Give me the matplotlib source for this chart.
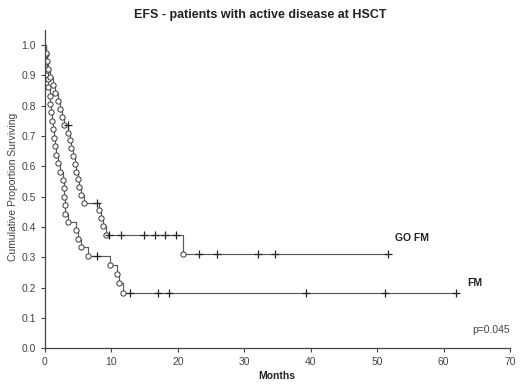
import matplotlib
matplotlib.use("Agg")
import matplotlib.pyplot as plt

plt.rcParams['font.family'] = ['Liberation Sans', 'DejaVu Sans']

# FM: event times (months) and survival after each event
fm_times = [0.1, 0.2, 0.3, 0.4, 0.5, 0.7, 0.8, 0.9, 1.0, 1.2, 1.3, 1.5, 1.6, 1.9,
            2.3, 2.7, 2.8, 2.85, 2.95, 3.0, 3.4, 4.7, 4.9, 5.4, 6.4, 9.8, 10.9,
            11.1, 11.8]
fm_surv = [0.972, 0.944, 0.917, 0.889, 0.861, 0.833, 0.806, 0.778, 0.75, 0.722,
           0.694, 0.667, 0.639, 0.611, 0.583, 0.556, 0.528, 0.5, 0.472, 0.444,
           0.417, 0.389, 0.361, 0.333, 0.306, 0.275, 0.245, 0.214, 0.183]
fm_cens = [7.9, 12.8, 17.0, 18.6, 39.3, 51.1, 61.9]

# GO FM
go_times = [0.1, 0.3, 0.5, 0.8, 1.2, 1.5, 1.9, 2.3, 2.6, 2.9, 3.5, 3.7, 3.9, 4.2,
            4.5, 4.7, 4.9, 5.1, 5.4, 5.9, 8.1, 8.5, 8.8, 9.2, 20.8]
go_surv = [0.974, 0.947, 0.921, 0.895, 0.868, 0.842, 0.816, 0.789, 0.763, 0.737,
           0.711, 0.686, 0.66, 0.634, 0.609, 0.583, 0.557, 0.531, 0.506, 0.48,
           0.456, 0.43, 0.404, 0.374, 0.311]
go_cens = [3.4, 7.8, 9.6, 11.4, 14.9, 16.5, 18.1, 19.7, 23.2, 25.9, 32.1, 34.6, 51.6]


def surv_at(t, times, surv):
    s = 1.0
    for ti, si in zip(times, surv):
        if ti <= t:
            s = si
    return s


fig = plt.figure(figsize=(5.2, 3.9), dpi=100)
ax = fig.add_axes([0.0865, 0.107, 0.8945, 0.816])

line_c = '#5a5a5a'
for times, surv, cens in [(fm_times, fm_surv, fm_cens), (go_times, go_surv, go_cens)]:
    x = [0] + times + [max(cens)]
    y = [1.0] + surv + [surv[-1]]
    ax.step(x, y, where='post', color=line_c, lw=0.85)
    ax.plot(times, surv, 'o', ms=3.8, mfc='white', mec='#3a3a3a', mew=0.7)
    ax.plot(cens, [surv_at(c, times, surv) for c in cens], '+', ms=5.5,
            color='#222222', mew=0.9)

ax.set_xlim(0, 70)
ax.set_ylim(0, 1.05)
ax.set_xticks(range(0, 71, 10))
ax.set_yticks([i / 10 for i in range(11)])
ax.set_yticklabels(['%.1f' % (i / 10) for i in range(11)])
for s in ['top', 'right']:
    ax.spines[s].set_visible(False)
for s in ['left', 'bottom']:
    ax.spines[s].set_color('#444444')
    ax.spines[s].set_linewidth(0.9)
ax.tick_params(labelsize=7.5, colors='#444444', length=3, width=0.8)

ax.text(52.7, 0.354, 'GO FM', fontsize=7.5, fontweight='bold', color='#222222')
ax.text(63.5, 0.206, 'FM', fontsize=7.5, fontweight='bold', color='#222222')
ax.text(69.9, 0.051, 'p=0.045', fontsize=7.5, color='#444444', ha='right')

fig.text(0.532, 0.028, 'Months', fontsize=7.5, fontweight='bold', ha='center',
         color='#222222')
fig.text(0.025, 0.52, 'Cumulative Proportion Surviving', fontsize=7.5,
         rotation=90, va='center', ha='center', color='#444444')
fig.text(0.5, 0.962, 'EFS - patients with active disease at HSCT', fontsize=9,
         fontweight='bold', ha='center', va='center', color='#222222')

fig.savefig('out.png', dpi=100)
